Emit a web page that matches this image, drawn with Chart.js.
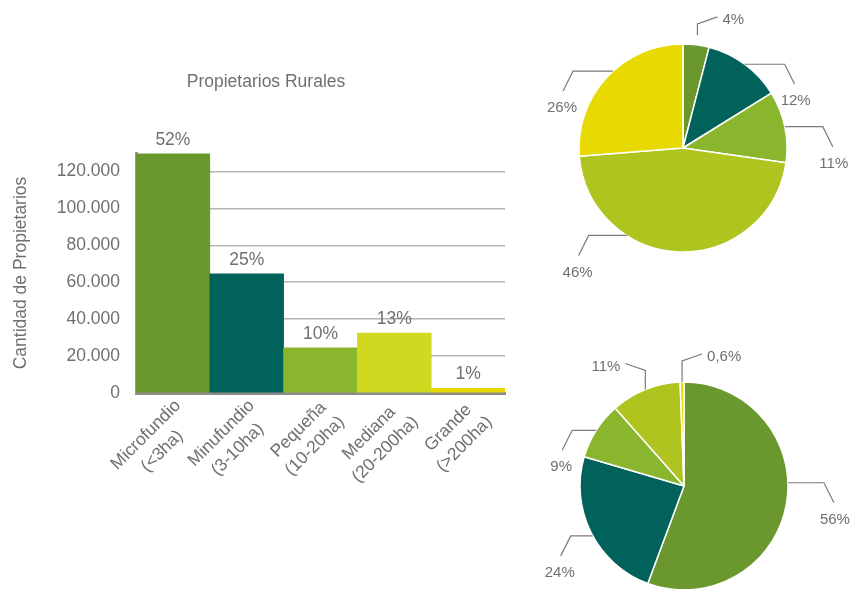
<!DOCTYPE html>
<html>
<head>
<meta charset="utf-8">
<script src="https://cdn.jsdelivr.net/npm/chart.js@4.4.1/dist/chart.umd.min.js"></script>
<style>
  html, body { margin: 0; padding: 0; width: 859px; height: 589px; overflow: hidden; background: #ffffff; }
  canvas { position: absolute; }
</style>
</head>
<body>
<canvas id="bar" width="532" height="589" style="left:0;top:0"></canvas>
<canvas id="pieTop" width="352" height="296" style="left:507px;top:0"></canvas>
<canvas id="pieBottom" width="352" height="292" style="left:508px;top:340px"></canvas>
<script>
// ---------- data ----------
const categories = [
  ["Microfundio", "(<3ha)"],
  ["Minufundio", "(3-10ha)"],
  ["Pequeña", "(10-20ha)"],
  ["Mediana", "(20-200ha)"],
  ["Grande", "(>200ha)"]
];
const propietarios = [129500, 64500, 24500, 32500, 2500];
const propietariosPct = ["52%", "25%", "10%", "13%", "1%"];
const yTicks = [0, 20000, 40000, 60000, 80000, 100000, 120000];
const pieTopValues = [4, 12, 11, 46, 26];
const pieTopLabels = ["4%", "12%", "11%", "46%", "26%"];
const pieBottomValues = [56, 24, 9, 11, 0.6];
const pieBottomLabels = ["56%", "24%", "9%", "11%", "0,6%"];

const barColors = ["#6a982e", "#00625a", "#8ab62e", "#d1d820", "#e8d800"];
const pieColors = ["#6a982e", "#00625a", "#8ab62e", "#b0c41f", "#e8da00"];

const FONT = "'Liberation Sans', Arial, sans-serif";
const TXT = "#707070";
const FS = 17.5;

// ---------- bar chart ----------
const barLabelPlugin = {
  id: 'barLabels',
  afterDatasetsDraw(chart) {
    const ctx = chart.ctx;
    const meta = chart.getDatasetMeta(0);
    ctx.save();
    ctx.font = FS + "px " + FONT;
    ctx.fillStyle = TXT;
    ctx.textAlign = 'center';
    ctx.textBaseline = 'alphabetic';
    meta.data.forEach((bar, i) => {
      ctx.fillText(propietariosPct[i], bar.x, bar.y - 9);
    });
    // rotated two-line category labels, lines centred on each other
    const xs = chart.scales.x;
    const baseY = chart.chartArea.bottom;
    const lh = 23;
    categories.forEach((lines, i) => {
      const cx = xs.getPixelForValue(i);
      const widths = lines.map(l => ctx.measureText(l).width);
      const maxW = Math.max(...widths);
      ctx.save();
      ctx.translate(cx + 5, baseY + 10);
      ctx.rotate(-Math.PI / 4);
      ctx.textAlign = 'center';
      ctx.textBaseline = 'middle';
      lines.forEach((l, k) => {
        ctx.fillText(l, -maxW / 2, k * lh);
      });
      ctx.restore();
    });
    ctx.restore();
  }
};

new Chart(document.getElementById('bar'), {
  type: 'bar',
  data: {
    labels: categories.map(c => c.join(' ')),
    datasets: [{
      data: propietarios,
      backgroundColor: barColors,
      borderWidth: 0,
      barPercentage: 1,
      categoryPercentage: 1
    }]
  },
  options: {
    responsive: false,
    animation: false,
    events: [],
    layout: { padding: 0 },
    plugins: {
      legend: { display: false },
      tooltip: { enabled: false },
      title: {
        display: true,
        text: 'Propietarios Rurales',
        color: TXT,
        font: { family: FONT, size: FS, weight: 'normal' },
        padding: { top: 72, bottom: 60 }
      }
    },
    scales: {
      x: {
        grid: { display: false },
        border: { display: true, color: '#8c8c8c', width: 3 },
        ticks: { display: false },
        afterFit(scale) { scale.height = 196; }
      },
      y: {
        min: 0,
        max: 130000,
        afterBuildTicks(scale) { scale.ticks = yTicks.map(v => ({ value: v })); },
        grid: { color: (c) => c.tick && c.tick.value === 0 ? 'rgba(0,0,0,0)' : '#b4b4b4', lineWidth: 1.5, drawTicks: false },
        border: { display: true, color: '#9a9a9a', width: 3 },
        ticks: {
          color: TXT,
          padding: 16,
          font: { family: FONT, size: FS },
          callback: (v) => v.toLocaleString('de-DE')
        },
        title: {
          display: true,
          text: 'Cantidad de Propietarios',
          color: TXT,
          font: { family: FONT, size: FS },
          padding: { top: 11, bottom: 0 }
        },
        afterFit(scale) { scale.width = 136; }
      },
      yRight: {
        position: 'right',
        display: true,
        grid: { display: false, drawTicks: false },
        border: { display: false },
        ticks: { display: false },
        afterFit(scale) { scale.width = 27; }
      }
    }
  },
  plugins: [barLabelPlugin]
});

// ---------- pies with leader lines ----------
function leaderPlugin(labels, leaders) {
  return {
    id: 'leaders',
    afterDatasetsDraw(chart) {
      const ctx = chart.ctx;
      const meta = chart.getDatasetMeta(0);
      ctx.save();
      ctx.font = "15px " + FONT;
      ctx.fillStyle = TXT;
      ctx.strokeStyle = '#7a7a7a';
      ctx.lineWidth = 1.2;
      meta.data.forEach((arc, i) => {
        const L = leaders[i];
        const mid = (arc.startAngle + arc.endAngle) / 2 + (L.shift || 0) * Math.PI / 180;
        const r = arc.outerRadius + (L.gap || 0);
        const sx = arc.x + Math.cos(mid) * r;
        const sy = arc.y + Math.sin(mid) * r;
        ctx.beginPath();
        ctx.moveTo(sx, sy);
        let ex, ey;
        if (L.mode === 'up') {
          const my = sy - L.len;
          ctx.lineTo(sx, my);
          ex = sx + L.dir * 20; ey = my - 7;
          ctx.lineTo(ex, ey);
          ctx.stroke();
          ctx.textBaseline = 'middle';
          ctx.textAlign = L.dir > 0 ? 'left' : 'right';
          ctx.fillText(labels[i], ex + L.dir * 5, ey + 3);
        } else {
          const mx = sx + L.dir * L.len;
          ctx.lineTo(mx, sy);
          ex = mx + L.dir * 10; ey = sy + 20;
          ctx.lineTo(ex, ey);
          ctx.stroke();
          ctx.textBaseline = 'middle';
          ctx.textAlign = 'center';
          ctx.fillText(labels[i], ex + L.dir * 1, ey + 17);
        }
      });
      ctx.restore();
    }
  };
}

function makePie(id, values, labels, leaders) {
  return new Chart(document.getElementById(id), {
    type: 'pie',
    data: {
      labels: categories.map(c => c.join(' ')),
      datasets: [{
        data: values,
        backgroundColor: pieColors,
        borderColor: '#ffffff',
        borderWidth: 1.5
      }]
    },
    options: {
      responsive: false,
      animation: false,
      events: [],
      radius: 104,
      layout: { padding: 0 },
      plugins: { legend: { display: false }, tooltip: { enabled: false }, title: { display: false } }
    },
    plugins: [leaderPlugin(labels, leaders)]
  });
}

makePie('pieTop', pieTopValues, pieTopLabels, [
  { mode: 'up', len: 11, dir: 1, gap: 10 },
  { mode: 'side', len: 40, dir: 1, gap: 0 },
  { mode: 'side', len: 38, dir: 1, gap: 0 },
  { mode: 'side', len: 38, dir: -1, gap: 0, shift: 31 },
  { mode: 'side', len: 40, dir: -1, gap: 0, shift: 5 }
]);

makePie('pieBottom', pieBottomValues, pieBottomLabels, [
  { mode: 'side', len: 36, dir: 1, gap: 0, shift: -12 },
  { mode: 'side', len: 22, dir: -1, gap: 0, shift: -2 },
  { mode: 'side', len: 24, dir: -1, gap: 0 },
  { mode: 'up', len: 19, dir: -1, gap: 0 },
  { mode: 'up', len: 21, dir: 1, gap: 0 }
]);
</script>
</body>
</html>
